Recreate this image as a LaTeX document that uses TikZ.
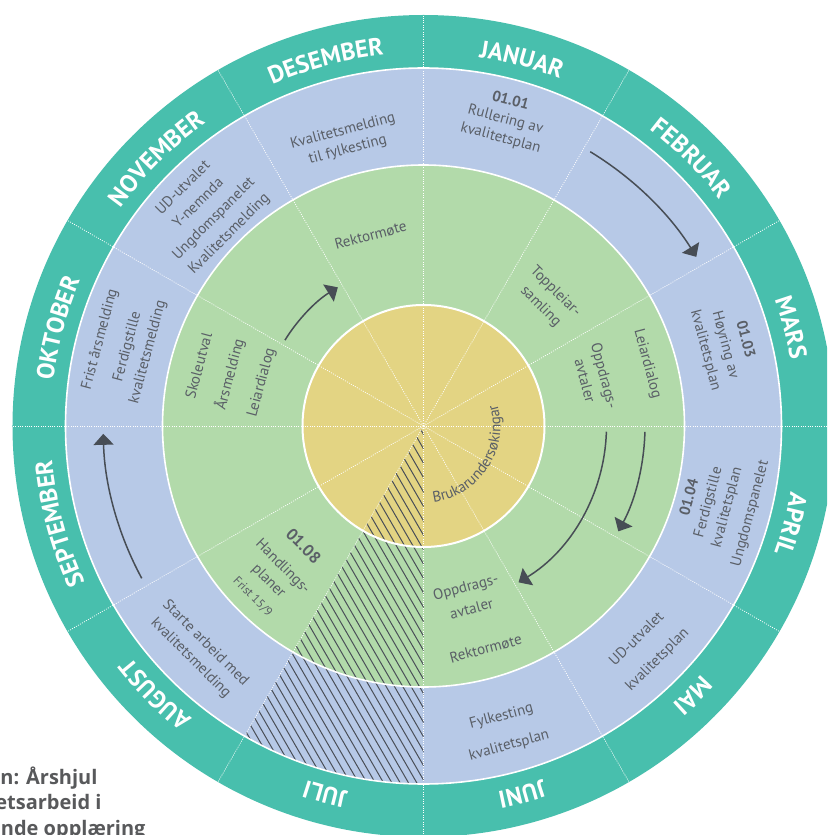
\documentclass[tikz,border=0pt]{standalone}
\usepackage{fontspec}
\setmainfont{PT Sans}
\newfontfamily\capfam{Open Sans}
\usetikzlibrary{decorations.text,arrows.meta}
\definecolor{ringteal}{HTML}{48BFAD}
\definecolor{ringblue}{HTML}{B7C9E7}
\definecolor{ringgreen}{HTML}{B2DAAA}
\definecolor{ringyellow}{HTML}{E3D483}
\definecolor{txtgray}{HTML}{5A5F67}
\definecolor{arrowgray}{HTML}{474D55}
\definecolor{hatchgray}{HTML}{4A4F58}
\definecolor{capgray}{HTML}{58595B}
\newcommand\monthfnt{\fontsize{24.5}{28}\selectfont\bfseries\color{white}}
\newcommand\yellowfnt{\fontsize{15}{18}\selectfont\color{txtgray}}
\begin{document}
\begin{tikzpicture}[x=1pt,y=1pt,
  lbl/.style={text=txtgray, font=\fontsize{15}{20}\selectfont, align=center, inner sep=0pt},
  lblsp/.style={lbl, font=\fontsize{15}{#1}\selectfont},
  arr/.style={draw=arrowgray, line width=1.5pt, -{Triangle[length=11pt,width=20pt]}},
  divider/.style={white, line width=0.7pt, dash pattern=on 1pt off 1.3pt},
  ringline/.style={white, line width=1.6pt},
  monthlbl/.style={decorate, decoration={text along path, text align=center, text={|\monthfnt|#1}}},
  capt/.style={text=capgray, font=\capfam\fontsize{20}{24}\selectfont\bfseries, inner sep=0pt, anchor=base east}
]
\path[use as bounding box] (-423.5,-409) rectangle (403.5,426);
\clip (-423.5,-409) rectangle (403.5,426);

% rings
\fill[ringteal] (0,0) circle (411);
\fill[ringblue] (0,0) circle (358);
\fill[ringgreen] (0,0) circle (261);
\fill[ringyellow] (0,0) circle (121);

% hatch (JULI sector)
\begin{scope}
  \clip (0,0) -- (-90:358) arc[start angle=-90, end angle=-120, radius=358] -- cycle;
  \begin{scope}[rotate=30]
    \foreach \i in {0,...,50} {
      \draw[hatchgray, line width=1pt] (-\i*7.2+3,-400) -- (-\i*7.2+3,20);
    }
  \end{scope}
\end{scope}

% dividers
\foreach \a in {0,30,...,330} {
  \draw[divider] (0,0) -- (\a:411);
}
% ring boundaries
\draw[ringline] (0,0) circle (358);
\draw[ringline] (0,0) circle (261);
\draw[ringline, line width=2pt] (0,0) circle (121);

% month labels
\path[monthlbl=JANUAR]    (100:373) arc[start angle=100, end angle=50, radius=373];
\path[monthlbl=FEBRUAR]   (70:373)  arc[start angle=70, end angle=20, radius=373];
\path[monthlbl=MARS]      (40:373)  arc[start angle=40, end angle=-10, radius=373];
\path[monthlbl=APRIL]     (10:373)  arc[start angle=10, end angle=-40, radius=373];
\path[monthlbl=MAI]       (-20:373) arc[start angle=-20, end angle=-70, radius=373];
\path[monthlbl=JUNI]      (-50:373) arc[start angle=-50, end angle=-100, radius=373];
\path[monthlbl=JULI]      (-80:373) arc[start angle=-80, end angle=-130, radius=373];
\path[monthlbl=AUGUST]    (-110:373) arc[start angle=-110, end angle=-160, radius=373];
\path[monthlbl=SEPTEMBER] (-140:373) arc[start angle=-140, end angle=-190, radius=373];
\path[monthlbl=OKTOBER]   (190:373) arc[start angle=190, end angle=140, radius=373];
\path[monthlbl=NOVEMBER]  (160:373) arc[start angle=160, end angle=110, radius=373];
\path[monthlbl=DESEMBER]  (130:373) arc[start angle=130, end angle=80, radius=373];

% yellow centre text
\path[decorate, decoration={text along path, text align=center, text={|\yellowfnt|Brukarundersøkingar}}]
  (-93:77) arc[start angle=-93, end angle=27, radius=77];

% blue ring texts
\node[lblsp=19, rotate=-15] (jan) at (75:317) {\textbf{01.01}\\Rullering av\\kvalitetsplan};
\node[lblsp=19, rotate=15] (des) at (105.3:296) {Kvalitetsmelding\\til fylkesting};
\node[lblsp=21.7, rotate=45] (nov) at (135.3:305.5) {UD-utvalet\\Y-nemnda\\Ungdomspanelet\\Kvalitetsmelding};
\node[lbl, rotate=75] (okt1) at (165:335) {Frist årsmelding};
\node[lblsp=21, rotate=75] (okt2) at (165:295.7) {Ferdigstille\\kvalitetsmelding};
\node[lblsp=21, rotate=-45] (aug) at (-135.1:318.3) {Starte arbeid med\\kvalitetsmelding};
\node[lbl, rotate=15] (jun1) at (-75:301) {Fylkesting};
\node[lbl, rotate=15] (jun2) at (-75:331) {kvalitetsplan};
\node[lbl, rotate=45] (mai1) at (-45:300.5) {UD-utvalet};
\node[lbl, rotate=45] (mai2) at (-45:331) {kvalitetsplan};
\node[lblsp=19.3, rotate=75] (apr1) at (-15:295.2) {\textbf{01.04}\\Ferdigstille\\kvalitetsplan};
\node[lbl, rotate=75] (apr2) at (-15:338.6) {Ungdomspanelet};
\node[lblsp=20.5, rotate=-75] (mar) at (15:312.3) {\textbf{01.03}\\Høyring av\\kvalitetsplan};

% green ring texts
\node[lbl, rotate=15] (gdes) at (105.5:198) {Rektormøte};
\node[lbl, rotate=75] (gokt1) at (165:233) {Skoleutval};
\node[lbl, rotate=75] (gokt2) at (165:200.4) {Årsmelding};
\node[lbl, rotate=75] (gokt3) at (165:167.4) {Leiardialog};
\node[lbl, rotate=-45, font=\fontsize{16.5}{20}\selectfont\bfseries] (gaug1) at (-135:169.6) {01.08};
\node[lblsp=20, rotate=-45] (gaug2) at (-135:209.3) {Handlings-\\planer};
\node[lbl, rotate=-45, font=\fontsize{12}{14}\selectfont] (gaug3) at (-135:241.5) {Frist 15/9};
\node[lblsp=22.5, rotate=15] (gjun1) at (-75.3:177.3) {Oppdrags-\\avtaler};
\node[lbl, rotate=15] (gjun2) at (-74.4:231) {Rektormøte};
\node[lblsp=20, rotate=-75] (gmar1) at (15.6:177.9) {Oppdrags-\\avtaler};
\node[lbl, rotate=-75] (gmar2) at (15.5:232.2) {Leiardialog};
\node[lblsp=21, rotate=-45] (gfeb) at (45.5:177.6) {Toppleiar-\\samling};

% arrows
\coordinate (a1s) at (58.7:321);
\coordinate (a2s) at (148.2:163);
\coordinate (a3s) at (-151.6:320.3);
\coordinate (a4s) at (-1.8:183);
\coordinate (a5s) at (-1.5:221.5);
\draw[arr] (a1s) arc[start angle=58.7, end angle=31.8, radius=321];
\draw[arr] (a2s) arc[start angle=148.2, end angle=121.7, radius=163];
\draw[arr] (a3s) arc[start angle=-151.6, end angle=-178.6, radius=320.3];
\draw[arr] (a4s) arc[start angle=-1.8, end angle=-58.7, radius=183];
\draw[arr] (a5s) arc[start angle=-1.5, end angle=-28.4, radius=221.5];

% caption (cut off at the left and bottom edges)
\node[capt] (cap1) at (-325.8,-358.5) {n: Årshjul};
\node[capt] (cap2) at (-321.8,-383) {etsarbeid i};
\node[capt] (cap3) at (-277.8,-409.5) {nde opplæring};
\end{tikzpicture}
\end{document}
